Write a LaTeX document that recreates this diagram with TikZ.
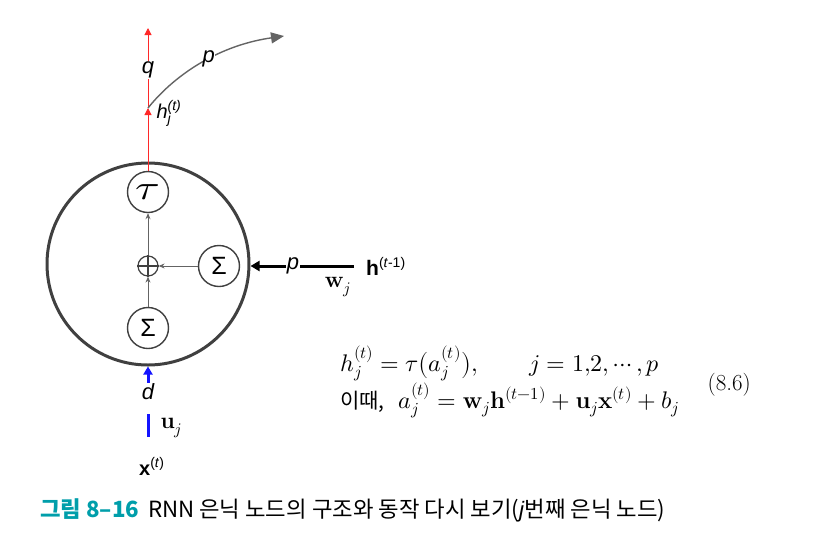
\documentclass[tikz,border=0pt]{standalone}
\usepackage{graphicx}
\usepackage{fontspec}
\usepackage{unicode-math}
\setmathfont{Latin Modern Math}
\setsansfont{Liberation Sans}
\newfontfamily\kr{Noto Sans CJK KR}
\usetikzlibrary{arrows.meta}
\definecolor{dkgray}{RGB}{64,64,64}
\definecolor{midgray}{RGB}{100,100,100}
\definecolor{capteal}{RGB}{0,158,170}
\definecolor{myred}{RGB}{255,40,40}
\definecolor{myblue}{RGB}{20,20,255}
\tikzset{
  smallc/.style={circle,draw=dkgray,line width=1.4pt,minimum size=41pt,inner sep=0pt},
  inarrow/.style={draw=midgray,line width=0.8pt,-{Stealth[length=6pt,width=5pt]}},
  lab/.style={font=\sffamily\itshape\fontsize{22}{24}\selectfont,inner sep=1pt,text=black},
}
\begin{document}
\begin{tikzpicture}[x=1pt,y=-1pt]
\useasboundingbox (0,0) rectangle (835,552);
% big circle
\node[circle,draw=dkgray,line width=3pt,minimum size=202pt,inner sep=0pt] (big) at (148,264) {};
% inner nodes
\node[smallc,font=\fontsize{30}{32}\selectfont] (tau) at (148,192) {\scalebox{1.5}[1.15]{$\tau$}};
\node[smallc,font=\sffamily\fontsize{25}{27}\selectfont] (sr) at (219,266) {Σ};
\node[smallc,font=\sffamily\fontsize{25}{27}\selectfont] (sb) at (148,328) {Σ};
\node[circle,draw=dkgray,line width=1.2pt,minimum size=20pt,inner sep=0pt] (plus) at (148,266) {};
\draw[dkgray,line width=1.2pt] (plus.north) -- (plus.south) (plus.west) -- (plus.east);
\draw[inarrow] (sb.north) -- (plus.south);
\draw[inarrow] (sr.west) -- (plus.east);
\draw[inarrow] (plus.north) -- (tau.south);
% output (red)
\coordinate (hj) at (148,108);
\coordinate (top) at (148,28);
\node[lab] (q) at (148,70) {q};
\draw[myred,line width=1pt,-{Triangle[length=7pt,width=7pt]}] (tau.north) -- (hj);
\draw[myred,line width=1pt] (hj) -- (q.south);
\draw[myred,line width=1pt,-{Triangle[length=7pt,width=7pt]}] (q.north) -- (top);
\node[font=\sffamily\itshape\fontsize{20}{22}\selectfont,anchor=west] (hjl) at (153,113) {h\rlap{\raisebox{-5pt}{\fontsize{14}{14}\selectfont j}}\raisebox{8pt}{\fontsize{14}{14}\selectfont (t)}};
\coordinate (pend) at (284,36);
\draw[midgray,line width=1.4pt,-{Triangle[length=13pt,width=11pt]}] (hj) .. controls (172,78) and (215,46) .. (pend)
  node[pos=0.57,lab,fill=white,inner sep=0pt] (pc) {p};
% recurrent input
\node[font=\sffamily\fontsize{21}{22}\selectfont,anchor=west,inner sep=1pt] (hprev) at (365,266) {\textbf{h}\raisebox{8pt}{\fontsize{14}{14}\selectfont(\textit{t}-1)}};
\node[lab] (pin) at (293,266) {p};
\draw[black,line width=3pt] (354,266) -- (pin.east);
\draw[black,line width=3pt,-{Triangle[length=9pt,width=10pt]}] (pin.west) -- (big.east |- pin.west);
\node[font=\fontsize{23}{26}\selectfont] (wj) at (338,287) {$\mathbf{w}_j$};
% input (blue)
\node[lab] (d) at (148,392) {d};
\draw[myblue,line width=3pt,-{Triangle[length=8pt,width=9pt]}] (d.north) -- (big.south);
\coordinate (ua) at (148,414);
\coordinate (ub) at (148,437);
\draw[myblue,line width=3pt] (ua) -- (ub);
\node[font=\fontsize{23}{26}\selectfont,anchor=west] (uj) at (157,428) {$\mathbf{u}_j$};
\node[font=\sffamily\fontsize{20}{22}\selectfont,anchor=west,inner sep=1pt] (xt) at (138,466) {\textbf{x}\raisebox{8pt}{\fontsize{14}{14}\selectfont(\textit{t})}};
% equations
\node[anchor=base west,font=\fontsize{24}{26}\selectfont,inner sep=0pt] (eq1) at (340,371) {$h_j^{(t)} = \tau\bigl(a_j^{(t)}\bigr), \qquad j = 1{,}2{,}\cdots,p$};
\node[anchor=base west,font=\fontsize{24}{26}\selectfont,inner sep=0pt] (eq2) at (340,408) {{\kr\fontsize{21}{22}\selectfont 이때,}\; $a_j^{(t)} = \mathbf{w}_j\mathbf{h}^{(t-1)} + \mathbf{u}_j\mathbf{x}^{(t)} + b_j$};
\node[anchor=base east,font=\fontsize{23}{26}\selectfont,inner sep=0pt] (eqn) at (751,390) {(8.6)};
% caption
\node[anchor=base west,inner sep=0pt] (cap) at (40,517) {\kr\fontsize{22.3}{24}\selectfont\textcolor{capteal}{\bfseries 그림 8–16}\, RNN 은닉 노드의 구조와 동작 다시 보기(\textsf{\textit{j}}번째 은닉 노드)};
\end{tikzpicture}
\end{document}
